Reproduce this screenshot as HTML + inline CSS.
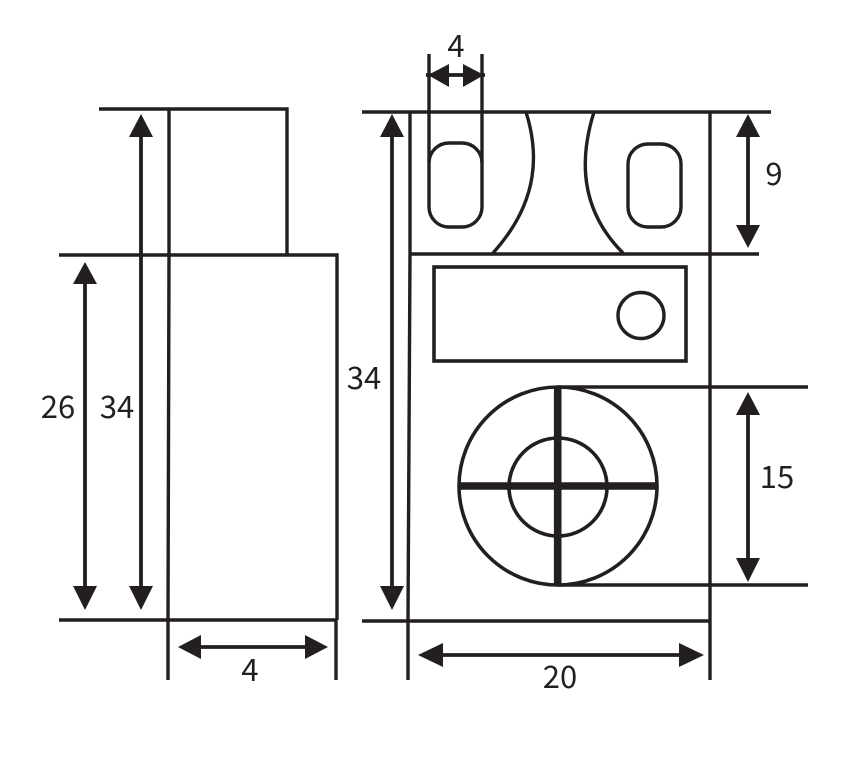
<!DOCTYPE html>
<html><head><meta charset="utf-8"><style>
html,body{margin:0;padding:0;background:#fff;width:855px;height:765px;overflow:hidden}
svg{display:block}
text{font-family:"Noto Sans CJK SC","Noto Sans CJK JP","Liberation Sans",sans-serif;font-size:31px;fill:#231f20}
</style></head><body>
<svg width="855" height="765" viewBox="0 0 855 765" xmlns="http://www.w3.org/2000/svg">
<g fill="none" stroke="#231f20" stroke-width="3.4">
<!-- left view -->
<path d="M99 109H287V255"/>
<path d="M59 255H337V620"/>
<path d="M59 620H337"/>
<path d="M169 109V255L168 620V680"/>
<path d="M336 620V680"/>
<!-- right view -->
<path d="M362 112H771"/>
<path d="M410 112V254L408 620V680"/>
<path d="M710 112V680"/>
<path d="M410 254H759"/>
<path d="M362 621H710"/>
<path d="M526 112C538 150 541 200 493 253"/>
<path d="M594 112C582 150 575 205 623 253"/>
<path d="M429 54V163M482 54V163"/>
<rect x="429" y="143" width="53" height="84" rx="20"/>
<rect x="628" y="144" width="53" height="83" rx="20"/>
<rect x="434" y="267" width="252" height="94" stroke-width="3.6"/>
<circle cx="641" cy="315.500" r="23"/>
<circle cx="558" cy="486" r="99" stroke-width="3.6"/>
<circle cx="558" cy="487" r="49" stroke-width="3.6"/>
<path d="M558 387H808M558 585H808"/>
<path d="M458 486H658M557.700 387V585" stroke-width="7.600"/>
<!-- dim lines -->
<path d="M85 280V595M141 132V595M392 132V595M748 132V230M748 412V561M197 647H309M438 655H684M426 75H485" stroke-width="3.8"/>
</g>
<g fill="#231f20">
<path d="M85 262L97 284H73Z"/><path d="M85 610L73 586H97Z"/>
<path d="M141 114L153 137H129Z"/><path d="M141 610L129 586H153Z"/>
<path d="M392 114L404 137H380Z"/><path d="M392 610L380 586H404Z"/>
<path d="M748 114L760 137H736Z"/><path d="M748 248L736 225H760Z"/>
<path d="M748 392L760 415H736Z"/><path d="M748 582L736 558H760Z"/>
<path d="M178 647L201 635V659Z"/><path d="M328 647L305 635V659Z"/>
<path d="M418 655L443 643V667Z"/><path d="M704 655L679 643V667Z"/>
<path d="M428 75L449 64V87Z"/><path d="M484 75L463 64V87Z"/>
</g>
<text x="456" y="57" text-anchor="middle">4</text>
<text x="774" y="185" text-anchor="middle">9</text>
<text x="364" y="389" text-anchor="middle">34</text>
<text x="58" y="418" text-anchor="middle">26</text>
<text x="117" y="418" text-anchor="middle">34</text>
<text x="777" y="488" text-anchor="middle">15</text>
<text x="250" y="681" text-anchor="middle">4</text>
<text x="560" y="688" text-anchor="middle">20</text>
</svg>
</body></html>
